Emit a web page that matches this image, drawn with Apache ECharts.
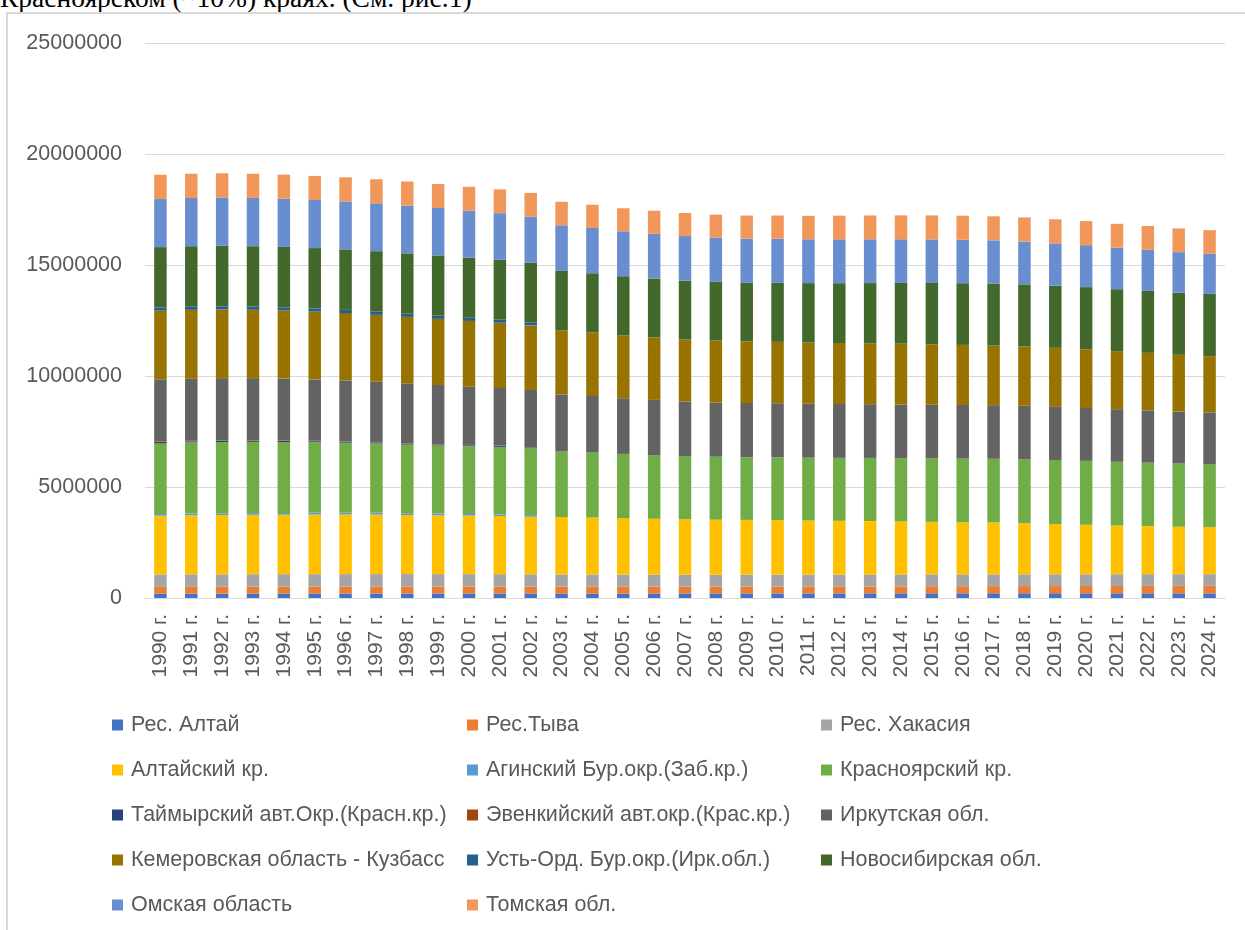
<!DOCTYPE html>
<html>
<head>
<meta charset="utf-8">
<script src="https://cdn.jsdelivr.net/npm/echarts@6/dist/echarts.min.js"></script>
<style>
  html, body { margin: 0; padding: 0; background: #fff; width: 1245px; height: 930px; overflow: hidden; }
  #caption { position: absolute; left: 0; top: -16px; font-family: "Liberation Serif", "Times New Roman", serif; font-size: 27.5px; line-height: 27px; color: #000; white-space: nowrap; }
  #frame { position: absolute; left: 6px; top: 12px; width: 1300px; height: 1000px; border-left: 2px solid #d9d9d9; border-top: 2px solid #d9d9d9; }
  #chart { position: absolute; left: 0; top: 0; width: 1245px; height: 930px; }
</style>
</head>
<body>
<div id="caption">Красноярском (~10%) краях. (См. рис.1)</div>
<div id="frame"></div>
<div id="chart"></div>
<script>
const years = ["1990 г.","1991 г.","1992 г.","1993 г.","1994 г.","1995 г.","1996 г.","1997 г.","1998 г.","1999 г.",
  "2000 г.","2001 г.","2002 г.","2003 г.","2004 г.","2005 г.","2006 г.","2007 г.","2008 г.","2009 г.",
  "2010 г.","2011 г.","2012 г.","2013 г.","2014 г.","2015 г.","2016 г.","2017 г.","2018 г.","2019 г.",
  "2020 г.","2021 г.","2022 г.","2023 г.","2024 г."];

const yTicks = [0, 5000000, 10000000, 15000000, 20000000, 25000000];

const respAltai = [192000,194000,196000,198000,200000,201000,202000,203000,204000,204000,205000,205000,204000,203000,203000,203000,204000,205000,206000,206000,206000,207000,208000,209000,210000,211000,212000,213000,213000,213000,212000,211000,211000,211000,210000];
const respTyva = [308000,310000,309000,309000,310000,309000,310000,310000,311000,311000,311000,310000,309000,308000,307000,306000,306000,307000,308000,308000,309000,311000,313000,315000,316000,318000,319000,321000,323000,325000,327000,331000,334000,336000,338000];
const respKhakasia = [560000,562000,563000,564000,565000,565000,565000,564000,563000,562000,560000,558000,556000,552000,549000,546000,544000,542000,540000,539000,538000,537000,536000,536000,535000,535000,534000,533000,532000,531000,530000,529000,528000,527000,526000];
const altaiKrai = [2650000,2660000,2670000,2675000,2680000,2685000,2685000,2680000,2660000,2650000,2635000,2620000,2590000,2590000,2570000,2540000,2515000,2495000,2475000,2465000,2455000,2435000,2420000,2405000,2390000,2365000,2345000,2330000,2300000,2260000,2230000,2195000,2165000,2135000,2120000];
const aginsky = [77000,77000,78000,78000,78000,78000,78000,78000,78000,77000,76000,75000,75000,0,0,0,0,0,0,0,0,0,0,0,0,0,0,0,0,0,0,0,0,0,0];
const krasKrai = [3190000,3205000,3210000,3210000,3195000,3180000,3155000,3125000,3095000,3065000,3050000,3040000,3010000,2945000,2925000,2895000,2865000,2845000,2835000,2825000,2825000,2830000,2835000,2845000,2850000,2860000,2870000,2875000,2880000,2885000,2880000,2870000,2860000,2850000,2840000];
const taimyr = [50000,49000,48000,47000,46000,45000,44000,44000,43000,42000,41000,40000,39000,0,0,0,0,0,0,0,0,0,0,0,0,0,0,0,0,0,0,0,0,0,0];
const evenki = [24000,24000,23000,22000,21000,20000,19000,19000,18000,18000,18000,17000,17000,0,0,0,0,0,0,0,0,0,0,0,0,0,0,0,0,0,0,0,0,0,0];
const irkutsk = [2800000,2800000,2805000,2800000,2790000,2765000,2745000,2720000,2700000,2670000,2625000,2595000,2570000,2575000,2545000,2510000,2490000,2460000,2445000,2440000,2440000,2430000,2425000,2420000,2415000,2415000,2415000,2415000,2410000,2395000,2380000,2370000,2355000,2340000,2325000];
const kemerovo = [3095000,3100000,3095000,3080000,3065000,3050000,3030000,3010000,2990000,2975000,2960000,2940000,2910000,2885000,2860000,2835000,2815000,2800000,2790000,2780000,2765000,2755000,2750000,2745000,2740000,2725000,2705000,2685000,2675000,2660000,2645000,2615000,2590000,2555000,2535000];
const ustOrda = [140000,141000,142000,143000,144000,144000,145000,145000,144000,143000,142000,140000,138000,0,0,0,0,0,0,0,0,0,0,0,0,0,0,0,0,0,0,0,0,0,0];
const novosibirsk = [2720000,2725000,2725000,2720000,2720000,2720000,2725000,2725000,2720000,2715000,2705000,2695000,2685000,2675000,2670000,2660000,2650000,2645000,2640000,2635000,2660000,2680000,2695000,2710000,2735000,2760000,2780000,2795000,2795000,2800000,2800000,2790000,2790000,2800000,2805000];
const omsk = [2165000,2170000,2175000,2175000,2170000,2165000,2160000,2155000,2150000,2135000,2120000,2100000,2080000,2055000,2040000,2025000,2015000,2005000,1995000,1990000,1985000,1975000,1975000,1975000,1970000,1965000,1960000,1945000,1930000,1905000,1890000,1870000,1850000,1825000,1805000];
const tomsk = [1095000,1095000,1095000,1090000,1090000,1085000,1085000,1085000,1085000,1080000,1075000,1070000,1065000,1060000,1045000,1035000,1040000,1040000,1035000,1040000,1045000,1055000,1065000,1070000,1075000,1080000,1080000,1080000,1085000,1085000,1085000,1075000,1075000,1070000,1065000];

const seriesDefs = [
  ["Рес. Алтай", respAltai, "#4472C4"],
  ["Рес.Тыва", respTyva, "#ED7D31"],
  ["Рес. Хакасия", respKhakasia, "#A5A5A5"],
  ["Алтайский кр.", altaiKrai, "#FFC000"],
  ["Агинский Бур.окр.(Заб.кр.)", aginsky, "#5B9BD5"],
  ["Красноярский кр.", krasKrai, "#70AD47"],
  ["Таймырский авт.Окр.(Красн.кр.)", taimyr, "#264478"],
  ["Эвенкийский авт.окр.(Крас.кр.)", evenki, "#9E480E"],
  ["Иркутская обл.", irkutsk, "#636363"],
  ["Кемеровская область - Кузбасс", kemerovo, "#997300"],
  ["Усть-Орд. Бур.окр.(Ирк.обл.)", ustOrda, "#255E91"],
  ["Новосибирская обл.", novosibirsk, "#43682B"],
  ["Омская область", omsk, "#698ED0"],
  ["Томская обл.", tomsk, "#F1975A"]
];

const FONT = "'Liberation Sans', Arial, sans-serif";
const TXT = "#595959";

const names = seriesDefs.map(d => d[0]);
const legendCols = [[], [], []];
names.forEach((n, i) => legendCols[i % 3].push(n));
const legendLeft = [107, 462, 816];

const chart = echarts.init(document.getElementById('chart'), null, { renderer: 'canvas' });
chart.setOption({
  animation: false,
  backgroundColor: 'transparent',
  grid: { left: 145, right: 20, top: 43, bottom: 332, containLabel: false },
  legend: legendCols.map((col, ci) => ({
    data: col,
    orient: 'vertical',
    left: legendLeft[ci],
    top: 709,
    itemWidth: 11,
    itemHeight: 11,
    itemGap: 23,
    icon: 'rect',
    selectedMode: false,
    textStyle: { fontFamily: FONT, fontSize: 21.5, color: TXT, lineHeight: 21, padding: [0, 0, 0, 3] }
  })),
  xAxis: {
    type: 'category',
    data: years,
    axisLine: { lineStyle: { color: '#d9d9d9', width: 1 } },
    axisTick: { show: false },
    axisLabel: { rotate: 90, margin: 16, fontFamily: FONT, fontSize: 21, color: TXT, interval: 0 }
  },
  yAxis: {
    type: 'value',
    min: yTicks[0],
    max: yTicks[yTicks.length - 1],
    interval: yTicks[1] - yTicks[0],
    axisLine: { show: false },
    axisTick: { show: false },
    splitLine: { lineStyle: { color: '#d9d9d9', width: 1 } },
    axisLabel: { margin: 23, fontFamily: FONT, fontSize: 21.5, color: TXT, formatter: v => String(v) }
  },
  series: seriesDefs.map(([name, data, color]) => ({
    name: name,
    type: 'bar',
    stack: 'total',
    data: data,
    barWidth: 12.5,
    itemStyle: { color: color },
    emphasis: { disabled: true }
  }))
});
</script>
</body>
</html>
